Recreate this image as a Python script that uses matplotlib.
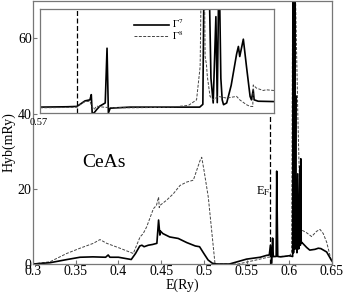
import matplotlib
matplotlib.use("Agg")
import matplotlib.pyplot as plt

plt.rcParams['font.family'] = ['Liberation Serif', 'DejaVu Serif']
plt.rcParams['mathtext.fontset'] = 'stix'

# main panel: Gamma7 (solid) and Gamma8 (dashed), E in Ry, Hyb in mRy
e_g7 = [0.300, 0.320, 0.340, 0.355, 0.370, 0.385, 0.388, 0.390, 0.400, 0.410, 0.415,
        0.420, 0.425, 0.4275, 0.430, 0.435, 0.440, 0.445, 0.447, 0.4485, 0.449, 0.452,
        0.460, 0.470, 0.480, 0.490, 0.495, 0.500, 0.505, 0.510, 0.515, 0.530, 0.550,
        0.566, 0.5735, 0.5766, 0.578, 0.5795, 0.5805, 0.5813, 0.5825, 0.5847, 0.5853,
        0.5865, 0.590, 0.600, 0.604, 0.6045, 0.6050, 0.6055, 0.6060, 0.6065, 0.6070,
        0.6075, 0.6078, 0.6082, 0.6090, 0.6100, 0.6110, 0.6118, 0.6125, 0.6130, 0.6135,
        0.6140, 0.6145, 0.6204, 0.624, 0.630, 0.634, 0.637, 0.6438, 0.6496]
h_g7 = [0.0, 0.35, 1.2, 1.8, 1.9, 1.8, 2.4, 1.8, 1.8, 1.4, 1.2,
        2.8, 4.8, 5.0, 4.6, 5.0, 5.2, 5.5, 11.7, 7.7, 8.8, 8.1,
        7.2, 6.8, 5.7, 4.8, 4.6, 2.8, 1.06, 0.2, 0.0, 0.0, 1.3,
        1.8, 2.3, 2.4, 5.0, 0.2, 6.9, 2.0, 2.0, 2.0, 24.7,
        2.0, 1.9, 2.2, 2.0, 75, 3.0, 75, 37, 75, 4.0,
        44.8, 5.0, 20, 3.0, 24, 4.0, 6.0, 26, 5.0, 28,
        5.5, 5.8, 4.4, 3.7, 3.9, 4.2, 4.1, 3.2, 0.9]

e_g8 = [0.300, 0.3199, 0.3394, 0.355, 0.3706, 0.3784, 0.3863, 0.4018, 0.4174, 0.4253,
        0.429, 0.4331, 0.4409, 0.4445, 0.447, 0.4478, 0.4487, 0.4565, 0.4643, 0.4721,
        0.4799, 0.4877, 0.4955, 0.4975, 0.5002, 0.5033, 0.5052, 0.5131, 0.540, 0.560,
        0.575, 0.585, 0.600, 0.6028, 0.6040, 0.6070, 0.6100, 0.6130, 0.6145, 0.6165,
        0.6204, 0.6262, 0.632, 0.636, 0.6398, 0.6438, 0.6496]
h_g8 = [0.0, 0.6, 2.8, 4.2, 5.5, 6.5, 5.5, 4.2, 2.8, 7.2,
        8.1, 9.9, 14.7, 15.6, 17.8, 15.0, 15.6, 17.0, 18.7, 20.9,
        21.8, 22.3, 27.5, 28.4, 24.9, 20.5, 17.8, 0.0, 0.0, 1.0,
        1.8, 2.0, 2.1, 3.0, 75, 75, 40, 12, 9.0, 8.8,
        8.3, 7.3, 8.7, 9.2, 8.1, 5.8, 0.5]

e_fermi = 0.577

# inset: zoom around E_F
ei_g7 = [0.5700, 0.5760, 0.5782, 0.5790, 0.5800, 0.5811, 0.5814, 0.5816, 0.5820, 0.5826,
         0.5833, 0.5845, 0.5849, 0.5852, 0.5856, 0.5900, 0.6000, 0.6055, 0.6062, 0.6065,
         0.6075, 0.6080, 0.6085, 0.6091, 0.6094, 0.6098, 0.6102, 0.6105, 0.6108, 0.6115,
         0.6125, 0.6137, 0.6141, 0.6144, 0.6152, 0.6159, 0.6167, 0.6170, 0.6174, 0.6176,
         0.6185, 0.6220]
hi_g7 = [1.7, 1.8, 1.9, 2.6, 3.5, 3.8, 5.3, 0.0, 0.0, 1.0,
         2.0, 2.9, 18.7, 0.0, 1.4, 1.7, 1.7, 1.7, 2.5, 45,
         45, 10, 2.9, 27.8, 3.0, 45, 10, 3.8, 2.4, 2.9,
         8.0, 17.0, 19.2, 16.3, 21.3, 13.4, 4.8, 3.8, 6.7, 3.8,
         3.4, 3.3]

ei_g8 = [0.5700, 0.5760, 0.5782, 0.5790, 0.5800, 0.5811, 0.5815, 0.5820, 0.5826, 0.5833,
         0.5850, 0.5900, 0.5960, 0.6000, 0.6030, 0.6048, 0.6056, 0.6059, 0.6065, 0.6067,
         0.6070, 0.6072, 0.6078, 0.6085, 0.6096, 0.6115, 0.6137, 0.6144, 0.6159, 0.6167,
         0.6173, 0.6174, 0.6181, 0.6196, 0.6203, 0.6220]
hi_g8 = [1.5, 1.6, 1.7, 2.5, 3.3, 3.4, 2.0, 1.0, 2.0, 1.8,
         1.6, 1.5, 1.6, 1.8, 2.2, 3.8, 13.4, 45, 45, 16.3,
         14.0, 10.5, 4.8, 3.8, 4.8, 4.3, 4.8, 3.8, 2.4, 1.9,
         1.9, 8.1, 7.2, 6.5, 6.7, 6.5]

fig = plt.figure(figsize=(3.44, 2.94), dpi=100)
ax = fig.add_axes([0.096, 0.102, 0.869, 0.895])

ax.plot(e_g8, h_g8, color='#444444', lw=0.7, ls=(0, (3, 1.5)))
ax.plot(e_g7, h_g7, color='black', lw=1.2)
ax.plot([e_fermi, e_fermi], [0, 40], color='black', lw=0.9, ls=(0, (4, 2)))

ax.set_xlim(0.3, 0.65)
ax.set_ylim(0, 70)
ax.set_xticks([0.3, 0.35, 0.4, 0.45, 0.5, 0.55, 0.6, 0.65])
ax.set_xticklabels(['0.3', '0.35', '0.4', '0.45', '0.5', '0.55', '0.6', '0.65'])
ax.set_yticks([0, 20, 40, 60])
ax.tick_params(direction='in', length=3, width=0.8, color='#777777', labelsize=10, pad=1)
for sp in ax.spines.values():
    sp.set_color('#777777')
    sp.set_linewidth(0.9)
ax.set_xlabel('E(Ry)', fontsize=10, labelpad=0)
ax.set_ylabel('Hyb(mRy)', fontsize=10)
ax.yaxis.set_label_coords(-0.06, 0.465)

ax.text(0.358, 27, 'CeAs', fontsize=14, va='center')
ax.text(0.5615, 19.3, r'E$_{\mathrm{F}}$', fontsize=9, va='center')

# inset
axi = fig.add_axes([0.1163, 0.6156, 0.680, 0.3537])
axi.plot(ei_g7, hi_g7, color='black', lw=1.2, label=r'$\Gamma^7$')
axi.plot(ei_g8, hi_g8, color='#444444', lw=0.7, ls=(0, (3, 1.5)), label=r'$\Gamma^8$')
axi.axvline(e_fermi + 0.0012, color='black', lw=0.9, ls=(0, (4, 2)))
axi.set_xlim(0.57, 0.622)
axi.set_ylim(0, 30)
axi.set_xticks([])
axi.set_yticks([])
for sp in axi.spines.values():
    sp.set_color('#777777')
    sp.set_linewidth(0.9)
axi.legend(loc='upper left', bbox_to_anchor=(0.37, 0.99), frameon=False, fontsize=7.5,
           handlelength=3.4, labelspacing=-0.1, handletextpad=0.3, borderpad=0.2)

fig.text(0.087, 0.582, '0.57', fontsize=7.5, va='center', ha='left')

fig.savefig('out.png', dpi=100)
